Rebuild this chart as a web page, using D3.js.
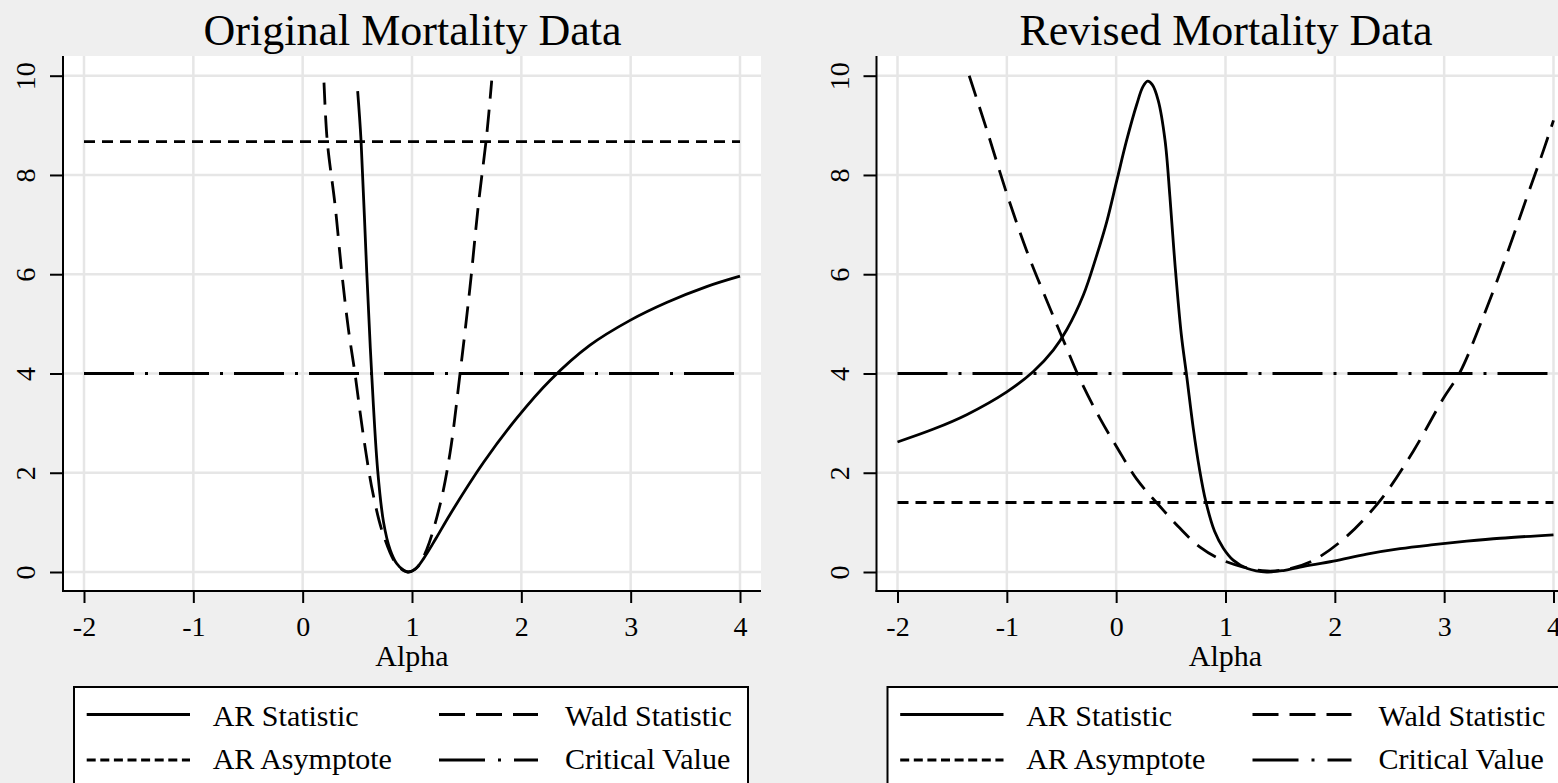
<!DOCTYPE html>
<html><head><meta charset="utf-8">
<script src="https://cdn.jsdelivr.net/npm/d3@7"></script>
<style>html,body{margin:0;padding:0;background:#efefef;} svg{display:block;}</style>
</head><body><svg id="chart" width="1558" height="783"></svg>
<script>
// ---------- data ----------
const alphaTicks = [-2, -1, 0, 1, 2, 3, 4];
const statTicks = [0, 2, 4, 6, 8, 10];
const panelTitles = ["Original Mortality Data", "Revised Mortality Data"];
const axisTitle = "Alpha";
const legendLabels = ["AR Statistic", "Wald Statistic", "AR Asymptote", "Critical Value"];

const origAR = [[0.503,9.69],[0.534,8.69],[0.586,6.05],[0.631,4.0],[0.686,2.05],[0.74,1.0],[0.8,0.45],[0.86,0.17],[0.92,0.04],[0.966,0.0],[1.03,0.06],[1.103,0.26],[1.22,0.68],[1.348,1.16],[1.652,2.2],[1.958,3.1],[2.262,3.86],[2.628,4.57],[2.994,5.07],[3.329,5.43],[3.695,5.75],[4.0,5.96]];
const origWald = [[0.195,9.86],[0.225,8.68],[0.296,7.4],[0.357,6.05],[0.418,4.9],[0.479,3.99],[0.555,2.75],[0.646,1.55],[0.738,0.75],[0.86,0.15],[0.96,0.0],[1.05,0.1],[1.134,0.45],[1.256,1.35],[1.348,2.4],[1.439,3.99],[1.531,5.75],[1.607,7.4],[1.683,8.8],[1.729,9.9]];
const origAsymptote = 8.67;

const revAR = [[-2.0,2.62],[-1.67,2.88],[-1.367,3.17],[-1.0,3.63],[-0.757,4.04],[-0.575,4.47],[-0.452,4.88],[-0.3,5.58],[-0.178,6.38],[-0.087,7.05],[0.005,7.88],[0.096,8.7],[0.188,9.42],[0.245,9.78],[0.288,9.89],[0.33,9.82],[0.385,9.5],[0.447,8.7],[0.492,7.55],[0.538,6.2],[0.595,4.8],[0.645,3.95],[0.705,2.9],[0.76,2.1],[0.82,1.42],[0.9,0.82],[0.98,0.48],[1.07,0.24],[1.2,0.07],[1.377,0.0],[1.53,0.03],[1.682,0.1],[1.987,0.22],[2.292,0.36],[2.597,0.47],[2.902,0.55],[3.207,0.62],[3.512,0.68],[4.0,0.75]];
const revWald = [[-1.344,10.0],[-1.185,8.92],[-1.0,7.62],[-0.818,6.47],[-0.635,5.47],[-0.483,4.67],[-0.33,3.88],[-0.147,3.09],[0.005,2.52],[0.188,1.87],[0.385,1.36],[0.584,0.88],[0.767,0.5],[0.95,0.26],[1.163,0.1],[1.377,0.02],[1.55,0.05],[1.773,0.2],[2.078,0.66],[2.414,1.44],[2.719,2.44],[2.993,3.5],[3.146,4.03],[3.359,5.15],[3.573,6.4],[3.756,7.55],[3.909,8.5],[4.0,9.1]];
const revAsymptote = 1.4;
const criticalValue = 4;

// ---------- layout / style ----------
const FONT = "'Liberation Serif','Times New Roman',Times,serif";
const panelOffsets = [0, 813.5];
const plot = {left: 63, right: 761, top: 56, bottom: 591};
const xRange = [84, 740];
const yRange = [572, 75.7];
const LW = 2.8;
const styles = {
  ar:   {plot: null,          legend: null},
  wald: {plot: "22,11",       legend: "26,11"},
  asym: {plot: "11,7",        legend: "9,4.6"},
  crit: {plot: "50,11,3,11",  legend: "46,13,3,13"}
};

const svg = d3.select("#chart");
svg.append("rect").attr("width", 1558).attr("height", 783).attr("fill", "#efefef");

function drawPanel(i, ar, wald, asym) {
  const off = panelOffsets[i];
  const g = svg.append("g").attr("transform", `translate(${off},0)`);
  const x = d3.scaleLinear().domain([-2, 4]).range(xRange);
  const y = d3.scaleLinear().domain([0, 10]).range(yRange);

  // title
  g.append("text").attr("x", 412.5).attr("y", 44.5).attr("text-anchor", "middle")
    .attr("font-family", FONT).attr("font-size", 44).attr("fill", "#000").text(panelTitles[i]);

  // plot background
  g.append("rect").attr("x", plot.left).attr("y", plot.top)
    .attr("width", plot.right - plot.left).attr("height", plot.bottom - plot.top).attr("fill", "#fff");

  // grid
  g.selectAll(".vg").data(alphaTicks).enter().append("line")
    .attr("x1", d => x(d)).attr("x2", d => x(d)).attr("y1", plot.top).attr("y2", plot.bottom)
    .attr("stroke", "#e6e6e6").attr("stroke-width", 2.5);
  g.selectAll(".hg").data(statTicks).enter().append("line")
    .attr("y1", d => y(d)).attr("y2", d => y(d)).attr("x1", plot.left).attr("x2", plot.right)
    .attr("stroke", "#e6e6e6").attr("stroke-width", 2.5);

  // axes
  const xAxis = g.append("g").attr("transform", `translate(0,${plot.bottom})`)
    .call(d3.axisBottom(x).tickValues(alphaTicks).tickSize(12).tickFormat(d3.format("d")));
  xAxis.select(".domain").remove();
  xAxis.selectAll(".tick line").attr("stroke", "#000").attr("stroke-width", 2);
  xAxis.selectAll(".tick text").attr("y", null).attr("dy", null)
    .attr("transform", "translate(0,45)")
    .attr("font-family", FONT).attr("font-size", 28).attr("fill", "#000")
    .text(d => d < 0 ? "-" + Math.abs(d) : String(d));

  const yAxis = g.append("g").attr("transform", `translate(${plot.left},0)`)
    .call(d3.axisLeft(y).tickValues(statTicks).tickSize(13).tickFormat(d3.format("d")));
  yAxis.select(".domain").remove();
  yAxis.selectAll(".tick line").attr("stroke", "#000").attr("stroke-width", 2);
  yAxis.selectAll(".tick text").attr("x", null).attr("dy", null)
    .attr("transform", "translate(-28,0) rotate(-90)")
    .attr("text-anchor", "middle")
    .attr("font-family", FONT).attr("font-size", 28).attr("fill", "#000");

  g.append("line").attr("x1", plot.left).attr("x2", plot.left).attr("y1", plot.top).attr("y2", plot.bottom + 1)
    .attr("stroke", "#000").attr("stroke-width", 2);
  g.append("line").attr("x1", plot.left - 1).attr("x2", plot.right).attr("y1", plot.bottom).attr("y2", plot.bottom)
    .attr("stroke", "#000").attr("stroke-width", 2);

  // axis title
  g.append("text").attr("x", (plot.left + plot.right) / 2).attr("y", 666).attr("text-anchor", "middle")
    .attr("font-family", FONT).attr("font-size", 30).attr("fill", "#000").text(axisTitle);

  // horizontal reference lines
  const hline = (v, dash) => g.append("line")
    .attr("x1", x(-2)).attr("x2", x(4)).attr("y1", y(v)).attr("y2", y(v))
    .attr("stroke", "#000").attr("stroke-width", LW).attr("stroke-dasharray", dash);
  hline(asym, styles.asym.plot);
  hline(criticalValue, styles.crit.plot);

  // curves
  const line = d3.line().x(d => x(d[0])).y(d => y(d[1])).curve(d3.curveCatmullRom.alpha(0.5));
  g.append("path").datum(wald).attr("d", line).attr("fill", "none").attr("stroke", "#000")
    .attr("stroke-width", LW).attr("stroke-dasharray", styles.wald.plot);
  g.append("path").datum(ar).attr("d", line).attr("fill", "none").attr("stroke", "#000")
    .attr("stroke-width", LW);

  // legend
  const lg = g.append("g");
  lg.append("rect").attr("x", 74).attr("y", 687).attr("width", 674).attr("height", 130)
    .attr("fill", "#fff").attr("stroke", "#000").attr("stroke-width", 2);
  const entries = [
    {label: legendLabels[0], dash: styles.ar.legend,   col: 0, row: 0},
    {label: legendLabels[1], dash: styles.wald.legend, col: 1, row: 0},
    {label: legendLabels[2], dash: styles.asym.legend, col: 0, row: 1},
    {label: legendLabels[3], dash: styles.crit.legend, col: 1, row: 1}
  ];
  const colX = [[86.7, 190, 212.7], [439, 538, 565]];
  const rowY = [[714.5, 725.5], [760, 769]];
  entries.forEach(e => {
    const c = colX[e.col], r = rowY[e.row];
    lg.append("line").attr("x1", c[0]).attr("x2", c[1]).attr("y1", r[0]).attr("y2", r[0])
      .attr("stroke", "#000").attr("stroke-width", LW).attr("stroke-dasharray", e.dash);
    lg.append("text").attr("x", c[2]).attr("y", r[1]).attr("font-family", FONT)
      .attr("font-size", 30).attr("fill", "#000").text(e.label);
  });
}

drawPanel(0, origAR, origWald, origAsymptote);
drawPanel(1, revAR, revWald, revAsymptote);
</script></body></html>
